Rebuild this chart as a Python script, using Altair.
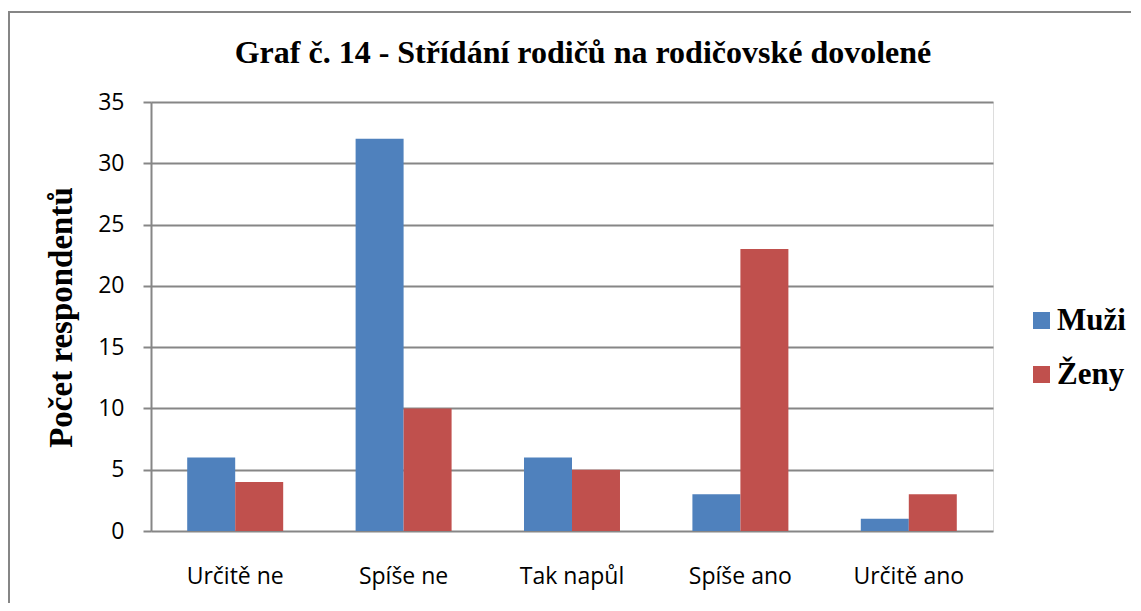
import altair as alt
import pandas as pd

categories = ["Určitě ne", "Spíše ne", "Tak napůl", "Spíše ano", "Určitě ano"]
series = ["Muži", "Ženy"]
muzi = [6, 32, 6, 3, 1]
zeny = [4, 10, 5, 23, 3]
y_ticks = [0, 5, 10, 15, 20, 25, 30, 35]
colors = ["#4F81BD", "#C0504D"]

rows = []
for c, m, z in zip(categories, muzi, zeny):
    rows.append({"kategorie": c, "pohlavi": "Muži", "pocet": m})
    rows.append({"kategorie": c, "pohlavi": "Ženy", "pocet": z})
df = pd.DataFrame(rows)

GRAY = "#868686"
SERIF = "Liberation Serif"
SANS = "Open Sans"

bars = alt.Chart(df).mark_bar().encode(
    x=alt.X("kategorie:N", sort=categories,
            scale=alt.Scale(paddingInner=0.43, paddingOuter=0.215),
            axis=alt.Axis(title=None, labelAngle=0, domain=False, ticks=False,
                          labelFont=SANS, labelFontSize=23, labelColor="#000000",
                          labelPadding=34)),
    xOffset=alt.XOffset("pohlavi:N", sort=series),
    y=alt.Y("pocet:Q", scale=alt.Scale(domain=[0, 35], nice=False),
            axis=alt.Axis(title="Počet respondentů", values=y_ticks,
                          grid=True, gridColor=GRAY, gridWidth=2,
                          domain=True, domainColor=GRAY, domainWidth=2,
                          ticks=True, tickColor=GRAY, tickWidth=2, tickSize=8,
                          labelFont=SANS, labelFontSize=23, labelColor="#000000",
                          labelPadding=19,
                          titleFont=SERIF, titleFontSize=33, titleFontWeight="bold",
                          titleColor="#000000", titleAngle=270,
                          titleBaseline="middle", titleX=-90, titleY=215)),
    color=alt.Color("pohlavi:N", sort=series,
                    scale=alt.Scale(domain=series, range=colors),
                    legend=alt.Legend(title=None, orient="none",
                                      legendX=875, legendY=203,
                                      symbolType="square", symbolSize=289,
                                      symbolStrokeWidth=0,
                                      labelFont=SERIF, labelFontSize=31,
                                      labelFontWeight="bold", labelColor="#000000",
                                      labelOffset=0, rowPadding=22)),
)

border_data = alt.Data(values=[{"k": 1}])
left_border = alt.Chart(border_data).mark_rule(color=GRAY, strokeWidth=2).encode(
    x=alt.value(-142), y=alt.value(-90), y2=alt.value(530))
top_border = alt.Chart(border_data).mark_rule(color=GRAY, strokeWidth=2).encode(
    x=alt.value(-143), x2=alt.value(1000), y=alt.value(-90))

chart = alt.layer(bars, left_border, top_border).properties(
    width=842, height=429,
    title=alt.TitleParams("Graf č. 14 - Střídání rodičů na rodičovské dovolené",
                          font=SERIF, fontSize=32, fontWeight="bold",
                          color="#000000", anchor="middle", baseline="alphabetic",
                          offset=-84, dx=11),
    autosize=alt.AutoSizeParams(type="none"),
    padding={"left": 143, "top": 94, "right": 138, "bottom": 72},
).configure_view(stroke=None).configure(background="white")

chart.save("out.html", embed_options={"renderer": "svg", "actions": False})
